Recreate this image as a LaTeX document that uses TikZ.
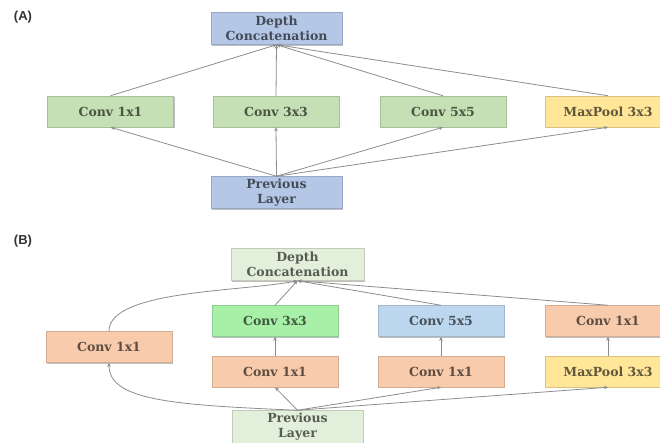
\documentclass[tikz,border=0pt]{standalone}
\usepackage{fontspec}
\newfontfamily\labfont{Liberation Sans}
\newfontfamily\boxfont{DejaVu Serif}
\usetikzlibrary{arrows.meta,shadows}
\definecolor{blueA}{RGB}{180,199,231}
\definecolor{greenA}{RGB}{197,224,180}
\definecolor{yellowC}{RGB}{255,230,153}
\definecolor{paleG}{RGB}{226,239,218}
\definecolor{brightG}{RGB}{168,240,168}
\definecolor{blueB}{RGB}{189,215,238}
\definecolor{orangeC}{RGB}{248,203,173}
\definecolor{linegray}{RGB}{140,140,140}
\tikzset{
  box/.style={rectangle, minimum width=126pt, minimum height=31pt, inner sep=0pt,
    align=center, font=\boxfont\bfseries\fontsize{12.5}{15}\selectfont,
    draw=#1!85!black, line width=0.5pt, fill=#1, text=#1!38!black,
    drop shadow={shadow xshift=1.2pt, shadow yshift=-1.2pt, opacity=0.25, fill=black}},
  conn/.style={draw=linegray, line width=0.8pt},
  arr/.style={conn, -{Stealth[length=4pt,width=3.5pt]}},
  panel/.style={font=\labfont\bfseries\fontsize{13}{15}\selectfont, text=black!80}
}
\begin{document}
\begin{tikzpicture}[x=1pt,y=-1pt]
\useasboundingbox (0,0) rectangle (660,443);
\clip (0,0) rectangle (660,443);
% ---------- (A)
\node[panel] (labA) at (23,17) {(A)};
\node[box=blueA, minimum width=131pt, minimum height=32pt] (dcA) at (276.5,28.5) {Depth\\Concatenation};
\node[box=greenA] (a1) at (110.5,111.5) {Conv 1x1};
\node[box=greenA] (a3) at (276,111.5) {Conv 3x3};
\node[box=greenA] (a5) at (443,111.5) {Conv 5x5};
\node[box=yellowC] (amp) at (608,111.5) {MaxPool 3x3};
\node[box=blueA, minimum width=131pt, minimum height=32pt] (plA) at (276.5,192.5) {Previous\\Layer};
\foreach \n in {a1,a3,a5,amp}{
  \draw[arr] (plA.north) -- (\n.south);
  \draw[arr] (\n.north) -- (dcA.south);
}
% ---------- (B)
\node[panel] (labB) at (23,241) {(B)};
\node[box=paleG, minimum width=133pt, minimum height=32pt] (dcB) at (297.5,264.5) {Depth\\Concatenation};
\node[box=orangeC] (b1) at (109,347) {Conv 1x1};
\node[box=brightG] (b3) at (275,321) {Conv 3x3};
\node[box=orangeC] (b3r) at (275,371.5) {Conv 1x1};
\node[box=blueB] (b5) at (441,321) {Conv 5x5};
\node[box=orangeC] (b5r) at (441,371.5) {Conv 1x1};
\node[box=orangeC] (bpr) at (608,321) {Conv 1x1};
\node[box=yellowC] (bmp) at (608,371.5) {MaxPool 3x3};
\node[box=paleG, minimum width=131pt, minimum height=33pt] (plB) at (297.5,427) {Previous\\Layer};
\draw[arr] (plB.north) .. controls (170,405) and (109,400) .. (b1.south);
\draw[arr] (b1.north) .. controls (109,290) and (240,292) .. (dcB.south);
\foreach \n in {b3r,b5r,bmp}{
  \draw[arr] (plB.north) -- (\n.south);
}
\draw[arr] (b3r.north) -- (b3.south);
\draw[arr] (b5r.north) -- (b5.south);
\draw[arr] (bmp.north) -- (bpr.south);
\foreach \n in {b3,b5,bpr}{
  \draw[arr] (\n.north) -- (dcB.south);
}
\end{tikzpicture}
\end{document}
